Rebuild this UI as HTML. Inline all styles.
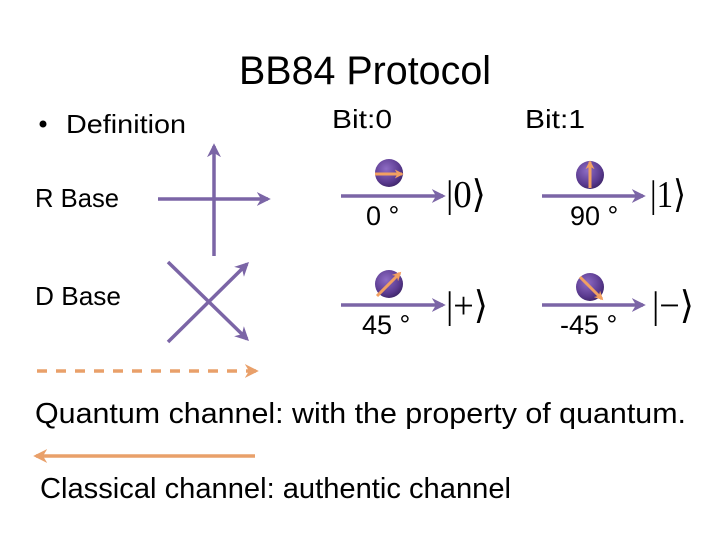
<!DOCTYPE html>
<html><head><meta charset="utf-8"><style>
html,body{margin:0;padding:0;background:#fff}
svg{display:block}
text{font-family:"Liberation Sans",sans-serif;fill:#000}
.k{font-family:"Liberation Serif",serif}
</style></head><body>
<svg width="728" height="546" viewBox="0 0 728 546" xmlns="http://www.w3.org/2000/svg">
<defs>
<radialGradient id="b" cx="0.4" cy="0.35" r="0.7">
<stop offset="0" stop-color="#8e6cc4"/><stop offset="0.7" stop-color="#5a3a8f"/><stop offset="1" stop-color="#3c2466"/>
</radialGradient>
<marker id="pa" viewBox="0 0 10 10" refX="8" refY="5" markerWidth="4" markerHeight="4" orient="auto"><path d="M0,0 L10,5 L0,10 L3,5z" fill="#7b65a6"/></marker>
<marker id="oa" viewBox="0 0 10 10" refX="8" refY="5" markerWidth="4" markerHeight="4" orient="auto"><path d="M0,0 L10,5 L0,10 L3,5z" fill="#e9a06a"/></marker>
<marker id="sa" viewBox="0 0 10 10" refX="8" refY="5" markerWidth="3" markerHeight="3" orient="auto"><path d="M0,0 L10,5 L0,10 L3,5z" fill="#f2a061"/></marker>
</defs>

<text x="239" y="84" font-size="40" textLength="252" lengthAdjust="spacingAndGlyphs">BB84 Protocol</text>
<circle cx="43" cy="124" r="3.5" fill="#000"/>
<text x="66" y="133" font-size="26" textLength="120" lengthAdjust="spacingAndGlyphs">Definition</text>
<text x="332" y="128" font-size="26" textLength="60" lengthAdjust="spacingAndGlyphs">Bit:0</text>
<text x="525" y="128" font-size="26" textLength="60" lengthAdjust="spacingAndGlyphs">Bit:1</text>

<text x="35" y="207" font-size="26" textLength="84" lengthAdjust="spacingAndGlyphs">R Base</text>
<text x="35" y="305" font-size="26" textLength="86" lengthAdjust="spacingAndGlyphs">D Base</text>

<g stroke="#7b65a6" stroke-width="3.5" fill="none">
<line x1="214" y1="256" x2="214" y2="146" marker-end="url(#pa)"/>
<line x1="158" y1="199" x2="268" y2="199" marker-end="url(#pa)"/>
<line x1="168" y1="262" x2="247" y2="339" marker-end="url(#pa)"/>
<line x1="168" y1="342" x2="247" y2="264" marker-end="url(#pa)"/>
<line x1="341" y1="196" x2="443" y2="196" marker-end="url(#pa)"/>
<line x1="542" y1="196" x2="643" y2="196" marker-end="url(#pa)"/>
<line x1="341" y1="305" x2="443" y2="305" marker-end="url(#pa)"/>
<line x1="542" y1="305" x2="643" y2="305" marker-end="url(#pa)"/>
</g>

<g>
<circle cx="389" cy="173" r="14" fill="url(#b)"/>
<circle cx="590" cy="175" r="14" fill="url(#b)"/>
<circle cx="389" cy="284" r="14" fill="url(#b)"/>
<circle cx="590" cy="287" r="14" fill="url(#b)"/>
</g>
<g stroke="#f2a061" stroke-width="3" fill="none">
<line x1="375" y1="174" x2="402" y2="174" marker-end="url(#sa)"/>
<line x1="590" y1="188" x2="590" y2="162" marker-end="url(#sa)"/>
<line x1="377" y1="296" x2="400" y2="273" marker-end="url(#sa)"/>
<line x1="580" y1="277" x2="602" y2="299" marker-end="url(#sa)"/>
</g>

<text x="366" y="225" font-size="27">0 °</text>
<text x="570" y="225" font-size="27">90 °</text>
<text x="362" y="334" font-size="27">45 °</text>
<text x="560" y="334" font-size="27">-45 °</text>

<text class="k" x="446" y="207" font-size="38" textLength="40" lengthAdjust="spacingAndGlyphs">|0⟩</text>
<text class="k" x="650" y="207" font-size="38" textLength="36" lengthAdjust="spacingAndGlyphs">|1⟩</text>
<text class="k" x="446" y="318" font-size="38" textLength="42" lengthAdjust="spacingAndGlyphs">|+⟩</text>
<text class="k" x="652" y="318" font-size="38" textLength="42" lengthAdjust="spacingAndGlyphs">|−⟩</text>

<line x1="37" y1="371" x2="256" y2="371" stroke="#e9a06a" stroke-width="3.5" stroke-dasharray="10,9" marker-end="url(#oa)"/>
<text x="35" y="423" font-size="29" textLength="651" lengthAdjust="spacingAndGlyphs">Quantum channel: with the property of quantum.</text>
<line x1="255" y1="456" x2="36" y2="456" stroke="#e9a06a" stroke-width="3.5" marker-end="url(#oa)"/>
<text x="40" y="498" font-size="29" textLength="471" lengthAdjust="spacingAndGlyphs">Classical channel: authentic channel</text>
</svg>
</body></html>
